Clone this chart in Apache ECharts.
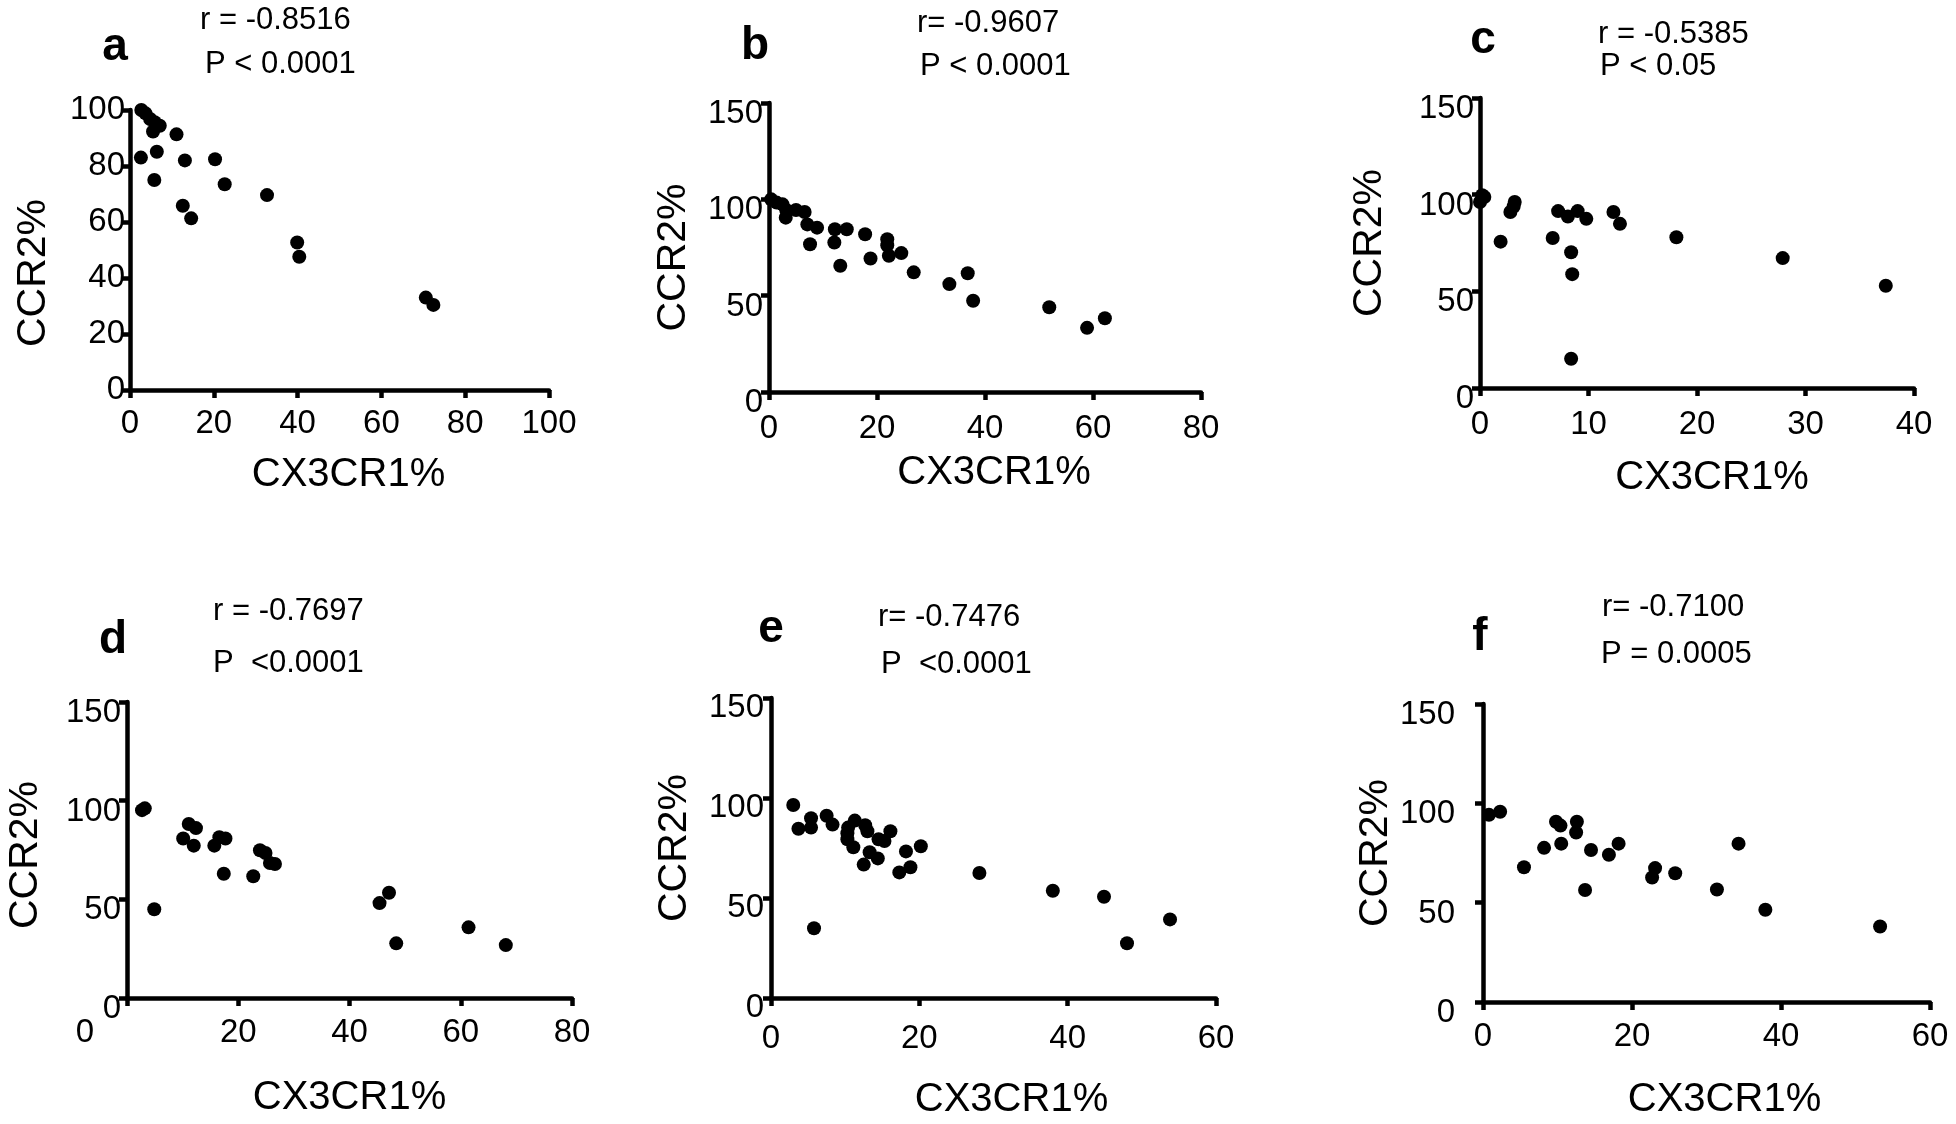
<!DOCTYPE html>
<html><head><meta charset="utf-8">
<script src="https://cdn.jsdelivr.net/npm/echarts@6/dist/echarts.min.js"></script>
<style>html,body{margin:0;padding:0;background:#fff}#c{width:1956px;height:1124px}</style>
</head><body><div id="c"></div>
<script>
// ---- data ----
const aX = [2.7,3.7,4.8,5.9,7.1,5.5,11.1,2.6,6.4,13.1,20.3,5.8,22.6,32.7,12.6,14.6,39.9,40.4,70.6,72.4];
const aY = [100,98.8,96.8,95.6,94.4,92.3,91.3,83,85.1,82,82.4,75,73.5,69.6,65.8,61.3,52.7,47.6,33,30.4];
const bX = [0.4,1.4,2.5,3.2,3.1,5.0,6.6,7.1,8.9,7.6,12.2,14.4,17.8,12.1,13.2,18.8,21.9,21.9,22.2,24.5,26.8,33.4,36.8,37.8,51.9,58.9,62.2];
const bY = [100,98.3,97.4,94.5,90.5,94.5,93.4,87,85.3,76.7,84.5,84.5,81.9,77.6,65.5,69.3,79.3,76.2,70.7,72.1,62.1,56,61.6,47.4,44,33.3,38.3];
const cX = [0.2,0,0.4,3.2,2.8,3.1,1.9,7.2,8.1,9.0,9.8,12.3,12.9,6.7,8.4,8.5,8.4,18.1,27.9,37.4];
const cY = [99.7,96.2,98.8,96.2,91,93.9,75.7,91.5,88.7,91.5,87.5,91,84.9,77.6,70.2,58.9,15.1,78,67.2,52.9];
const dX = [2.7,3.2,4.9,10.1,11.1,12.4,12.0,15.7,16.6,17.7,17.4,22.7,23.9,24.9,25.7,26.6,45.4,47.1,48.4,61.4,68.1];
const dY = [95.2,96.1,45,80.8,88.2,86.1,77.2,77.2,81.5,80.8,63,61.7,74.9,73.5,68.4,67.9,48.1,53.3,27.7,35.8,26.8];
const eX = [3.0,3.7,5.4,5.4,5.8,7.5,8.3,10.4,11.3,10.3,10.3,11.1,12.7,13.0,14.5,15.3,16.1,13.3,14.4,12.5,17.3,18.2,18.8,20.2,28.1,38.0,44.9,48.0,53.8];
const eY = [96.5,84.6,89.9,85.2,34.9,91.1,86.7,85.2,88.7,82.4,79.4,75.4,86.4,83.4,79.4,78.5,83.4,72.9,69.8,66.7,62.8,73.3,65.4,75.9,62.5,53.6,50.6,27.4,39.3];
const fX = [0.8,2.3,5.5,8.2,9.8,10.4,10.5,12.6,12.5,14.5,13.7,16.9,18.2,22.7,23.1,25.8,31.4,34.3,37.9,53.3];
const fY = [94.2,95.8,67.8,77.6,90.7,88.8,79.7,90.7,85.3,76.5,56.4,74.1,79.7,62.7,67.4,64.8,56.6,79.7,46.4,38];

const panelLetters = ['a','b','c','d','e','f'];
const rTexts = ['r = -0.8516','r= -0.9607','r = -0.5385','r = -0.7697','r= -0.7476','r= -0.7100'];
const pTexts = ['P < 0.0001','P < 0.0001','P < 0.05','P  <0.0001','P  <0.0001','P = 0.0005'];
const xTitle = 'CX3CR1%';
const yTitle = 'CCR2%';
const xMax = [100,80,40,80,60,60];
const xStep = [20,20,10,20,20,20];
const yMax = [100,150,150,150,150,150];
const yStep = [20,50,50,50,50,50];

const xs = [aX,bX,cX,dX,eX,fX];
const ys = [aY,bY,cY,dY,eY,fY];

// ---- layout ----
const FONT = "'Liberation Sans', Arial, sans-serif";
const L = [
  {grid:{left:130,top:110,width:419,height:280}, letter:[115,47], r:[200,20], p:[205,64],
   xGap:65, yGap:76, xLM:17, yLM:5, yPadTop:0, xNamePad:18, yNamePad:46},
  {grid:{left:769,top:103,width:432,height:289}, letter:[755,46], r:[917,23], p:[920,66],
   xGap:61, yGap:75, xLM:20, yLM:6, yPadTop:22, xNamePad:18, yNamePad:20},
  {grid:{left:1480,top:98,width:434,height:290}, letter:[1483,40], r:[1598,34], p:[1600,66],
   xGap:70, yGap:90, xLM:20, yLM:6, yPadTop:22, xNamePad:30, yNamePad:0},
  {grid:{left:127,top:702,width:445,height:296}, letter:[113,640], r:[213,611], p:[213,663],
   xGap:80, yGap:81, xLM:18, yLM:6, yPadTop:22, xNamePad:0, yNamePad:10, shiftZero:-42},
  {grid:{left:771,top:698,width:445,height:300}, letter:[771,629], r:[878,617], p:[881,664],
   xGap:82, yGap:76, xLM:24, yLM:7, yPadTop:20, xNamePad:36, yNamePad:0},
  {grid:{left:1483,top:704,width:447,height:298}, letter:[1480,637], r:[1602,607], p:[1601,654],
   xGap:78, yGap:87, xLM:18, yLM:28, yPadTop:22, xNamePad:36, yNamePad:0}
];

const axisLine = {show:true, onZero:false, lineStyle:{color:'#000', width:4.5}};
const axisTick = {show:true, length:8, lineStyle:{color:'#000', width:4.5}};
const baseText = {fontSize:33, fontFamily:FONT, color:'#000'};

const grid = [], xAxis = [], yAxis = [], series = [], graphic = [];
L.forEach((cfg, i) => {
  grid.push(Object.assign({containLabel:false}, cfg.grid));
  const xLabel = Object.assign({margin:cfg.xLM, interval:0, hideOverlap:false, showMinLabel:true, showMaxLabel:true}, baseText);
  if (cfg.shiftZero) {
    // the "0" of this axis is drawn offset to the left (as in the original figure); other labels at the ticks
    const vals = [];
    for (let v = xStep[i]; v <= xMax[i]; v += xStep[i]) vals.push(v);
    xLabel.customValues = vals;
  }
  xAxis.push({
    type:'value', gridIndex:i, min:0, max:xMax[i], interval:xStep[i],
    axisLine, axisTick, splitLine:{show:false}, axisLabel:xLabel,
    name:xTitle, nameLocation:'middle', nameGap:cfg.xGap,
    nameTextStyle:{color:'#000', fontSize:40, fontFamily:FONT, padding:[0,0,0,cfg.xNamePad]}
  });
  const yLabel = Object.assign({margin:cfg.yLM, interval:0, hideOverlap:false, showMinLabel:true, showMaxLabel:true}, baseText);
  if (cfg.yPadTop > 0) {
    yLabel.formatter = v => '{v|' + v + '}';
    yLabel.rich = {v:Object.assign({padding:[cfg.yPadTop,0,0,0]}, baseText)};
  }
  yAxis.push({
    type:'value', gridIndex:i, min:0, max:yMax[i], interval:yStep[i],
    axisLine, axisTick, splitLine:{show:false}, axisLabel:yLabel,
    name:yTitle, nameLocation:'middle', nameGap:cfg.yGap,
    nameTextStyle:{color:'#000', fontSize:41, fontFamily:FONT, padding:[0,cfg.yNamePad,0,0]}
  });
  series.push({
    type:'scatter', xAxisIndex:i, yAxisIndex:i, symbol:'circle', symbolSize:14,
    itemStyle:{color:'#000', opacity:1}, data: xs[i].map((x, k) => [x, ys[i][k]]), silent:true
  });
  graphic.push({type:'text', x:cfg.letter[0], y:cfg.letter[1],
    style:{text:panelLetters[i], font:`bold 46px ${FONT}`, fill:'#000', textAlign:'center', textVerticalAlign:'middle'}});
  graphic.push({type:'text', x:cfg.r[0], y:cfg.r[1],
    style:{text:rTexts[i], font:`31px ${FONT}`, fill:'#000', textAlign:'left', textVerticalAlign:'middle'}});
  graphic.push({type:'text', x:cfg.p[0], y:cfg.p[1],
    style:{text:pTexts[i], font:`31px ${FONT}`, fill:'#000', textAlign:'left', textVerticalAlign:'middle'}});
});

const chart = echarts.init(document.getElementById('c'), null, {renderer:'canvas'});
chart.setOption({backgroundColor:'#fff', animation:false, grid, xAxis, yAxis, series, graphic});

// place the offset "0" tick label using the axis scale of that panel
L.forEach((cfg, i) => {
  if (!cfg.shiftZero) return;
  const p = chart.convertToPixel({gridIndex:i}, [0, 0]);
  graphic.push({type:'text', x:p[0] + cfg.shiftZero, y:p[1] + cfg.xLM,
    style:{text:String(0), font:`33px ${FONT}`, fill:'#000', textAlign:'center', textVerticalAlign:'top'}});
});
chart.setOption({graphic});
</script>
</body></html>
